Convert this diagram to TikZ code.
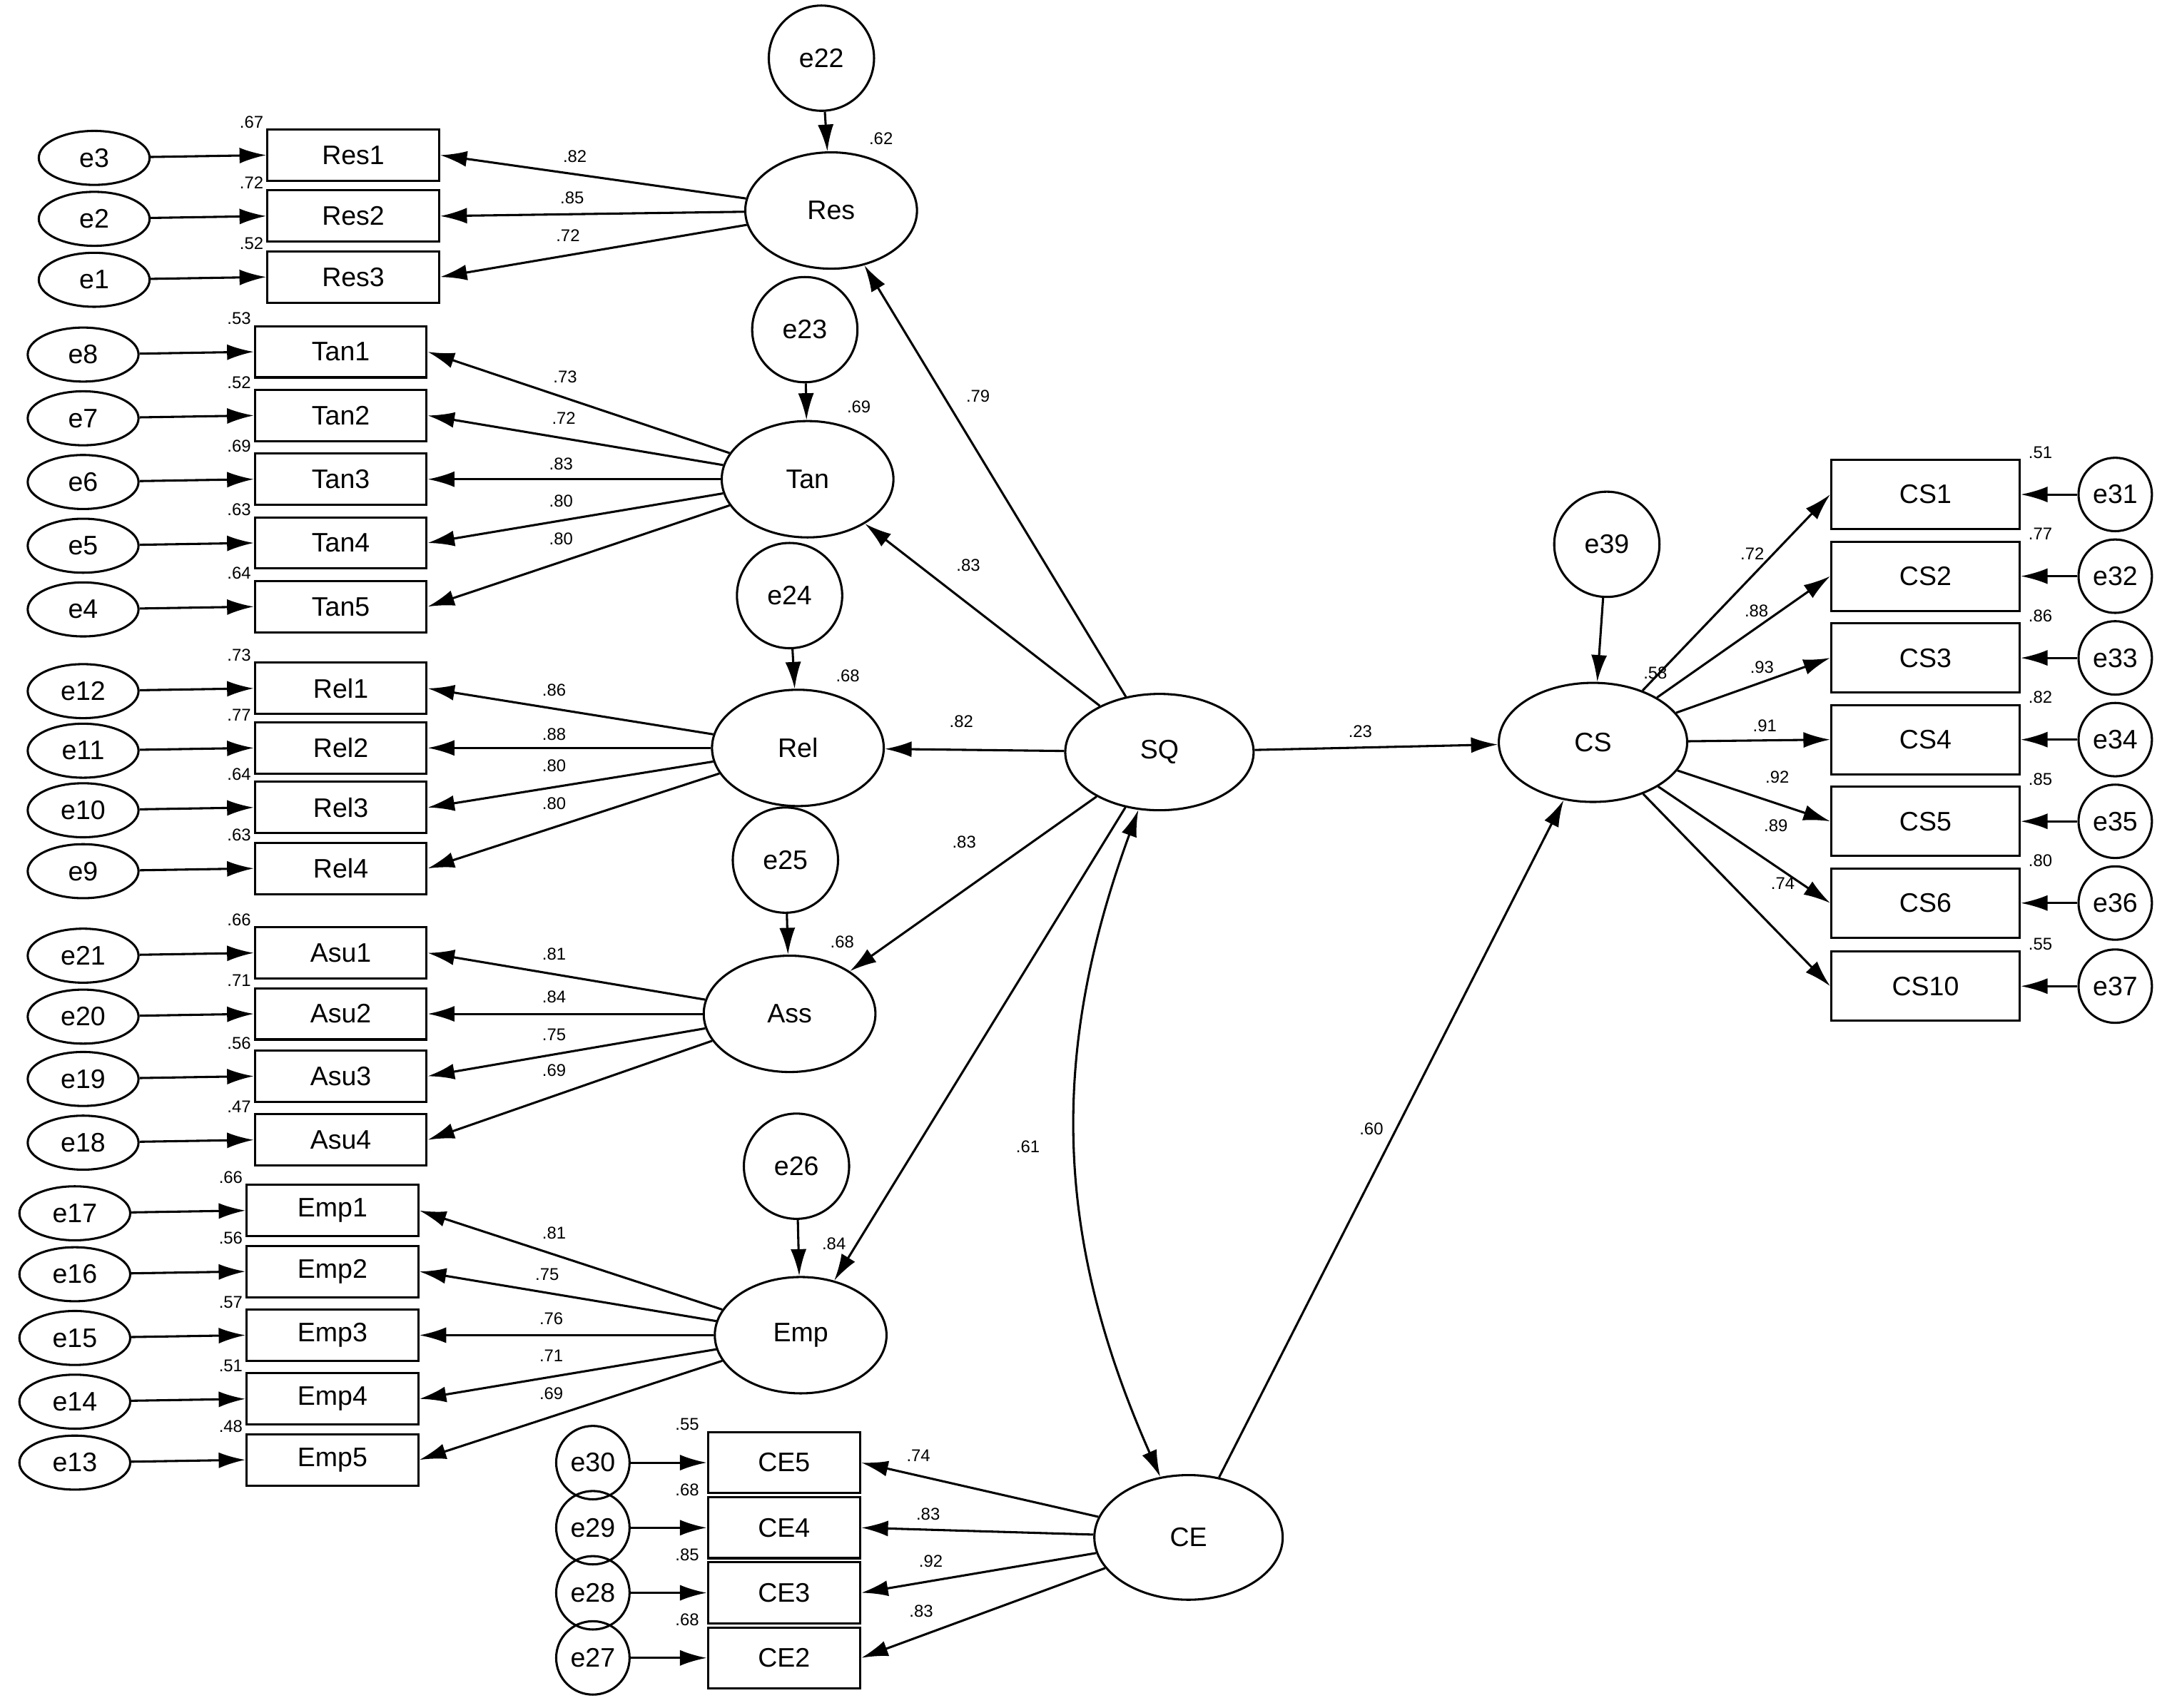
\documentclass[tikz,border=0pt]{standalone}
\usepackage{fontspec}
\setmainfont{Liberation Sans}
\usetikzlibrary{shapes.geometric,arrows.meta}
\begin{document}
\begin{tikzpicture}[x=0.02cm,y=-0.02cm,
  every node/.style={font=\fontsize{11}{13}\selectfont},
  box/.style={draw,line width=0.9pt,minimum width=2.48cm,minimum height=0.74cm,inner sep=0},
  lat/.style={ellipse,draw,line width=0.9pt,minimum width=2.48cm,minimum height=1.68cm,inner sep=0},
  err/.style={ellipse,draw,line width=0.9pt,minimum width=1.6cm,minimum height=0.78cm,inner sep=0},
  errc/.style={circle,draw,line width=0.9pt,minimum size=1.52cm,inner sep=0},
  errs/.style={circle,draw,line width=0.9pt,minimum size=1.06cm,inner sep=0},
  num/.style={font=\fontsize{7}{8}\selectfont,inner sep=0},
  arr/.style={line width=0.9pt,-{Latex[length=11pt,width=6.5pt]}}]
\useasboundingbox (0,0) rectangle (1568,1233);

% latent variables
\node[lat] (Res) at (600,152) {Res};
\node[lat] (Tan) at (583,346) {Tan};
\node[lat] (Rel) at (576,540) {Rel};
\node[lat] (Ass) at (570,732) {Ass};
\node[lat] (Emp) at (578,964) {Emp};
\node[lat,minimum width=2.72cm] (SQ) at (837,543) {SQ};
\node[lat,minimum width=2.72cm,minimum height=1.72cm] (CS) at (1150,536) {CS};
\node[lat,minimum width=2.72cm,minimum height=1.8cm] (CE) at (858,1110) {CE};

% disturbances
\node[errc] (e22) at (593,42) {e22};
\node[errc] (e23) at (581,238) {e23};
\node[errc] (e24) at (570,430) {e24};
\node[errc] (e25) at (567,621) {e25};
\node[errc] (e26) at (575,842) {e26};
\node[errc] (e39) at (1160,393) {e39};
\draw[arr] (e22) -- (Res);
\draw[arr] (e23) -- (Tan);
\draw[arr] (e24) -- (Rel);
\draw[arr] (e25) -- (Ass);
\draw[arr] (e26) -- (Emp);
\draw[arr] (e39) -- (CS);
\node[num] at (636,100) {.62};
\node[num] at (620,294) {.69};
\node[num] at (612,488) {.68};
\node[num] at (608,680) {.68};
\node[num] at (602,898) {.84};
\node[num] at (1195,486) {.58};

% Res
\foreach \n/\y/\e/\v/\l/\lx/\ly in {1/112/3/.67/.82/415/113, 2/156/2/.72/.85/413/143, 3/200/1/.52/.72/410/170}{
  \node[box] (Res\n) at (255,\y) {Res\n};
  \node[err] (e\e) at (68,\y+2) {e\e};
  \draw[arr] (e\e) -- (Res\n.west);
  \draw[arr] (Res) -- (Res\n.east);
  \node[num,anchor=south east] at ([xshift=-1pt]Res\n.north west) {\v};
  \node[num] at (\lx,\ly) {\l};
}
% Tan
\foreach \n/\y/\e/\v/\l/\lx/\ly in {1/254/8/.53/.73/408/272, 2/300/7/.52/.72/407/302, 3/346/6/.69/.83/405/335, 4/392/5/.63/.80/405/362, 5/438/4/.64/.80/405/389}{
  \node[box] (Tan\n) at (246,\y) {Tan\n};
  \node[err] (e\e) at (60,\y+2) {e\e};
  \draw[arr] (e\e) -- (Tan\n.west);
  \draw[arr] (Tan) -- (Tan\n.east);
  \node[num,anchor=south east] at ([xshift=-1pt]Tan\n.north west) {\v};
  \node[num] at (\lx,\ly) {\l};
}
% Rel
\foreach \n/\y/\e/\v/\l/\lx/\ly in {1/497/12/.73/.86/400/498, 2/540/11/.77/.88/400/530, 3/583/10/.64/.80/400/553, 4/627/9/.63/.80/400/580}{
  \node[box] (Rel\n) at (246,\y) {Rel\n};
  \node[err] (e\e) at (60,\y+2) {e\e};
  \draw[arr] (e\e) -- (Rel\n.west);
  \draw[arr] (Rel) -- (Rel\n.east);
  \node[num,anchor=south east] at ([xshift=-1pt]Rel\n.north west) {\v};
  \node[num] at (\lx,\ly) {\l};
}
% Ass
\foreach \n/\y/\e/\v/\l/\lx/\ly in {1/688/21/.66/.81/400/689, 2/732/20/.71/.84/400/720, 3/777/19/.56/.75/400/747, 4/823/18/.47/.69/400/773}{
  \node[box] (Asu\n) at (246,\y) {Asu\n};
  \node[err] (e\e) at (60,\y+2) {e\e};
  \draw[arr] (e\e) -- (Asu\n.west);
  \draw[arr] (Ass) -- (Asu\n.east);
  \node[num,anchor=south east] at ([xshift=-1pt]Asu\n.north west) {\v};
  \node[num] at (\lx,\ly) {\l};
}
% Emp
\foreach \n/\y/\e/\v/\l/\lx/\ly in {1/874/17/.66/.81/400/890, 2/918/16/.56/.75/395/920, 3/964/15/.57/.76/398/952, 4/1010/14/.51/.71/398/979, 5/1054/13/.48/.69/398/1006}{
  \node[box] (Emp\n) at (240,\y) {Emp\n};
  \node[err] (e\e) at (54,\y+2) {e\e};
  \draw[arr] (e\e) -- (Emp\n.west);
  \draw[arr] (Emp) -- (Emp\n.east);
  \node[num,anchor=south east] at ([xshift=-1pt]Emp\n.north west) {\v};
  \node[num] at (\lx,\ly) {\l};
}
% CE
\foreach \n/\y/\e/\v/\l/\lx/\ly in {5/1056/30/.55/.74/663/1051, 4/1103/29/.68/.83/670/1093, 3/1150/28/.85/.92/672/1127, 2/1197/27/.68/.83/665/1163}{
  \node[box,minimum width=2.2cm,minimum height=0.88cm] (CE\n) at (566,\y) {CE\n};
  \node[errs] (e\e) at (428,\y) {e\e};
  \draw[arr] (e\e) -- (CE\n.west);
  \draw[arr] (CE) -- (CE\n.east);
  \node[num,anchor=south east] at ([xshift=-3pt]CE\n.north west) {\v};
  \node[num] at (\lx,\ly) {\l};
}
% CS
\foreach \n/\y/\e/\v/\l/\lx/\ly in {1/357/31/.51/.72/1265/400, 2/416/32/.77/.88/1268/441, 3/475/33/.86/.93/1272/482, 4/534/34/.82/.91/1274/524, 5/593/35/.85/.92/1283/561, 6/652/36/.80/.89/1282/596, 10/712/37/.55/.74/1287/638}{
  \node[box,minimum width=2.72cm,minimum height=1cm] (CS\n) at (1390,\y) {CS\n};
  \node[errs] (e\e) at (1527,\y) {e\e};
  \draw[arr] (e\e) -- (CS\n.east);
  \draw[arr] (CS) -- (CS\n.west);
  \node[num,anchor=south west] at ([xshift=3pt]CS\n.north east) {\v};
  \node[num] at (\lx,\ly) {\l};
}

% structural paths
\draw[arr] (SQ) -- (Res);
\draw[arr] (SQ) -- (Tan);
\draw[arr] (SQ) -- (Rel);
\draw[arr] (SQ) -- (Ass);
\draw[arr] (SQ) -- (Emp);
\draw[arr] (SQ) -- (CS);
\draw[arr] (CE) -- (CS);
\draw[line width=0.9pt,{Latex[length=11pt,width=6.5pt]}-{Latex[length=11pt,width=6.5pt]}] (SQ.250) to[bend right=22] (CE.115);
\node[num] at (706,286) {.79};
\node[num] at (699,408) {.83};
\node[num] at (694,521) {.82};
\node[num] at (696,608) {.83};
\node[num] at (742,828) {.61};
\node[num] at (982,528) {.23};
\node[num] at (990,815) {.60};
\end{tikzpicture}
\end{document}
